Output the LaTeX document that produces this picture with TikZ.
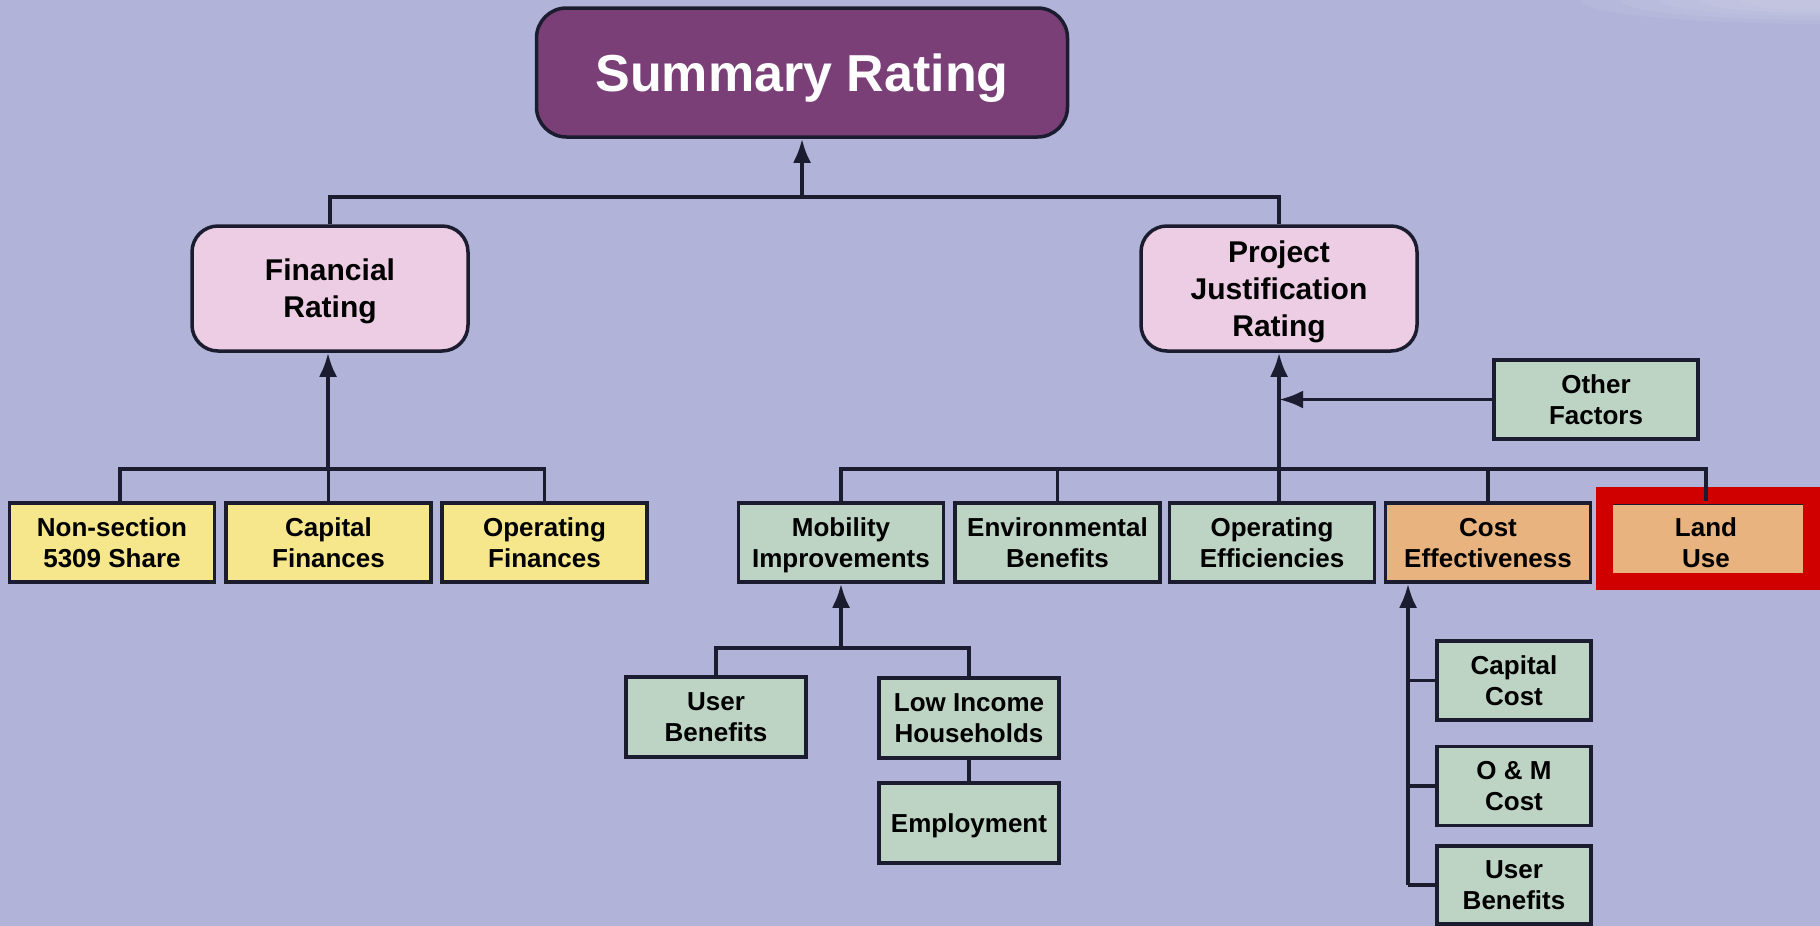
\documentclass[tikz,border=0pt]{standalone}
\usepackage{fontspec}
\setmainfont{Liberation Sans}
\usetikzlibrary{arrows.meta}
\definecolor{bg}{HTML}{B1B4D8}
\definecolor{sumfill}{HTML}{7B3F78}
\definecolor{pinkfill}{HTML}{ECCDE3}
\definecolor{yelfill}{HTML}{F6E68C}
\definecolor{grnfill}{HTML}{BDD3C4}
\definecolor{orgfill}{HTML}{E8B37E}
\definecolor{linec}{HTML}{1C1C30}
\definecolor{hlred}{HTML}{D00000}
\tikzset{
  conn/.style={draw=linec, line width=3.8pt},
  arr/.style={conn, -{Latex[length=24pt,width=18pt]}},
  basebox/.style={draw=linec, line width=3.5pt, align=center, inner sep=0pt,
     text depth=0pt, font=\fontsize{26}{31}\selectfont\bfseries, text=black},
  ybox/.style={basebox, fill=yelfill, minimum width=205pt, minimum height=79pt},
  gbox/.style={basebox, fill=grnfill, minimum width=205pt, minimum height=79pt},
  obox/.style={basebox, fill=orgfill, minimum width=205pt, minimum height=79pt},
  sbox/.style={basebox, fill=grnfill, minimum width=180pt, minimum height=80pt},
  cbox/.style={basebox, fill=grnfill, minimum width=154pt, minimum height=79pt},
  pbox/.style={basebox, fill=pinkfill, rounded corners=26pt, minimum width=276pt,
     minimum height=125pt, font=\fontsize{30}{37}\selectfont\bfseries},
  topbox/.style={basebox, fill=sumfill, rounded corners=30pt, minimum width=531pt,
     minimum height=129pt, text=white, font=\fontsize{52}{60}\selectfont\bfseries},
  hl/.style={draw=hlred, line width=17pt}
}
\begin{document}
\begin{tikzpicture}[x=1pt,y=-1pt]
\fill[bg] (0,0) rectangle (1820,926);
\useasboundingbox (0,0) rectangle (1820,926);
\foreach \r/\h in {240/24,200/20,160/16,120/13,80/10}
  \fill[white, opacity=0.06] (1820,0) ellipse [x radius=\r pt, y radius=\h pt];

% nodes
\node[topbox] (sum) at (802,72.5) {Summary Rating};
\node[pbox] (fin) at (330,288.5) {Financial\\Rating};
\node[pbox] (pjr) at (1279,288.5) {Project\\Justification\\Rating};
\node[gbox, minimum width=204pt] (oth) at (1596,399.5) {Other\\Factors};

\node[ybox] (ns) at (112,542.5) {Non-section\\5309 Share};
\node[ybox] (cf) at (328.5,542.5) {Capital\\Finances};
\node[ybox] (opf) at (544.5,542.5) {Operating\\Finances};

\node[gbox] (mob) at (841,542.5) {Mobility\\Improvements};
\node[gbox] (env) at (1057.5,542.5) {Environmental\\Benefits};
\node[gbox] (oe) at (1272,542.5) {Operating\\Efficiencies};
\node[obox] (ce) at (1488,542.5) {Cost\\Effectiveness};
\node[obox] (lu) at (1706,542.5) {Land\\Use};

\node[sbox] (ubA) at (716,717) {User\\Benefits};
\node[sbox] (lih) at (969,718) {Low Income\\Households};
\node[sbox] (emp) at (969,823) {Employment};

\node[cbox] (capc) at (1514,680.5) {Capital\\Cost};
\node[cbox] (omc) at (1514,786) {O \& M\\Cost};
\node[cbox, minimum height=78pt] (ubB) at (1514,885) {User\\Benefits};

% highlight frame
\draw[hl] (1604.5,495.5) rectangle (1811.5,581.5);

% connectors
\coordinate (tb) at (802,197);
\draw[conn] (fin.north) |- (tb) -| (pjr.north);
\draw[arr] (tb) -- (sum.south);

\coordinate (fb) at (328,469);
\draw[conn] ([xshift=8pt]ns.north) |- (fb) -| (opf.north);
\draw[conn] (cf.north) -- (cf.north |- fb);
\draw[arr] (fb) -- (fb |- fin.south);

\coordinate (rb) at (1279,469);
\draw[conn] (mob.north) |- (rb) -| (lu.north);
\draw[conn] (env.north) -- (env.north |- rb);
\draw[conn] (ce.north) -- (ce.north |- rb);
\draw[conn] (rb |- oe.north) -- (rb);
\draw[arr] (rb) -- (pjr.south);
\draw[arr] (oth.west) -- (oth.west -| pjr.south);

\coordinate (mb) at (841,648);
\draw[conn] (ubA.north) |- (mb) -| (lih.north);
\draw[arr] (mb) -- (mob.south);
\draw[conn] (lih.south) -- (emp.north);

\coordinate (cb) at (1408,885);
\draw[arr] (cb) -- (cb |- ce.south);
\draw[conn] (capc.west) -- (capc.west -| cb);
\draw[conn] (omc.west) -- (omc.west -| cb);
\draw[conn] (ubB.west) -- (cb);
\end{tikzpicture}
\end{document}
